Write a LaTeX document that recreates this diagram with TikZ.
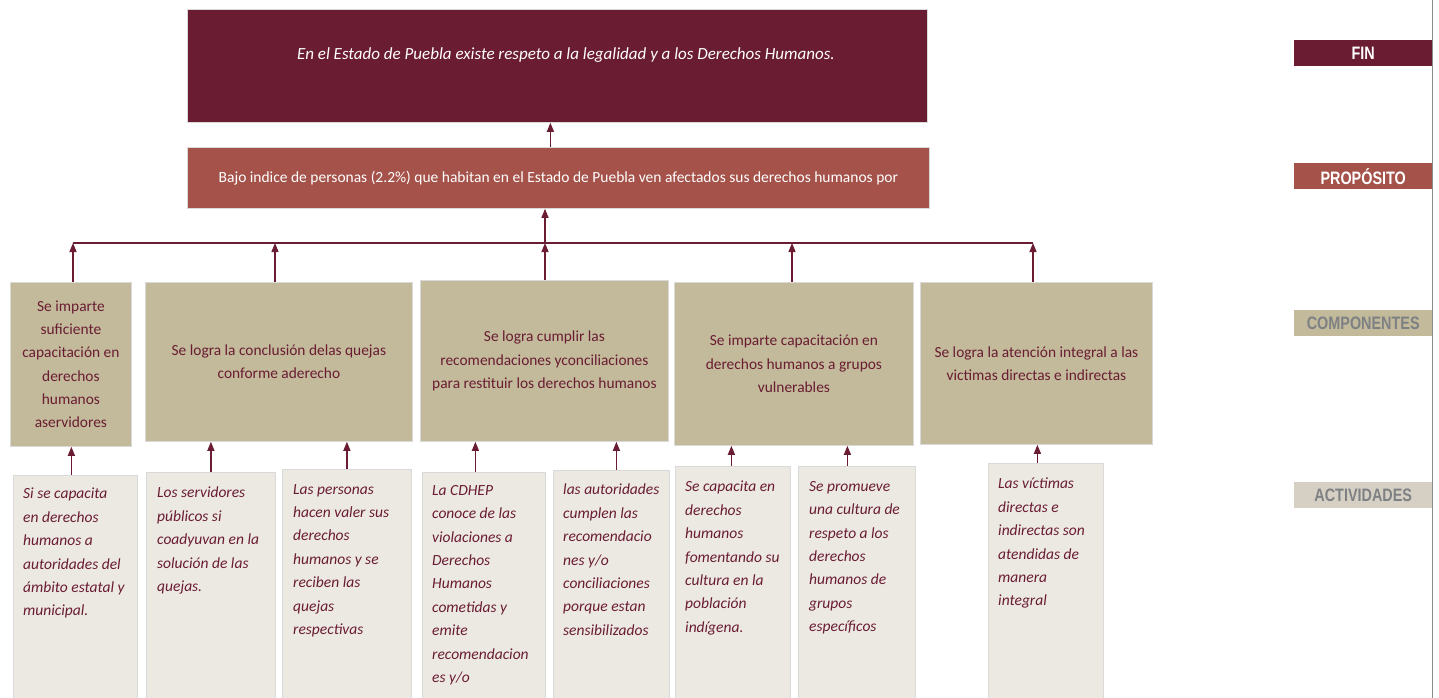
\documentclass[tikz,border=0pt]{standalone}
\usepackage{fontspec}
\setmainfont{Carlito}
\newfontfamily\labfont[FakeStretch=0.8]{Liberation Sans}
\usetikzlibrary{arrows.meta}
\definecolor{maroon}{RGB}{106,28,50}
\definecolor{propcol}{RGB}{165,83,74}
\definecolor{tancol}{RGB}{194,186,154}
\definecolor{actbg}{RGB}{236,233,227}
\definecolor{actlab}{RGB}{214,208,196}
\definecolor{labgray}{RGB}{126,129,132}
\begin{document}
\begin{tikzpicture}[x=1pt,y=-1pt,
  box/.style={draw=black!15, line width=0.8pt, inner sep=0pt, anchor=north west},
  compbox/.style={box, fill=tancol, text=maroon, font=\fontsize{15.4}{23.3}\selectfont, align=center},
  actbox/.style={box, fill=actbg},
  acttext/.style={anchor=north west, inner sep=0pt, text=maroon, font=\fontsize{15.5}{23.4}\selectfont\itshape, align=left},
  arr/.style={draw=maroon, line width=1.3pt, -{Triangle[width=7pt,length=9pt]}},
  bus/.style={draw=maroon, line width=1.3pt},
  lab/.style={minimum width=138pt, minimum height=26pt, inner sep=0pt, anchor=north west, font=\labfont\bfseries\fontsize{18}{20}\selectfont}
]
\useasboundingbox (0,0) rectangle (1439,698);
\fill[white] (0,0) rectangle (1439,698);

% FIN and PROPOSITO
\node[box, fill=maroon, minimum width=740pt, minimum height=113pt] (fin) at (187,9) {};
\node[text=white, inner sep=0pt, font=\fontsize{17}{20}\selectfont\itshape] (fintext) at (566,55) {En el Estado de Puebla existe respeto a la legalidad y a los Derechos Humanos.};
\node[box, fill=propcol, minimum width=742pt, minimum height=61pt, text=white, font=\fontsize{15.5}{18}\selectfont] (prop) at (187,147) {Bajo indice de personas (2.2\%) que habitan en el Estado de Puebla ven afectados sus derechos humanos por};

% Components
\node[compbox, minimum width=121pt, minimum height=164pt] (c1) at (10,282) {Se imparte\\suficiente\\capacitación en\\derechos\\humanos\\aservidores};
\node[compbox, minimum width=267pt, minimum height=159pt] (c2) at (145,282) {Se logra la conclusión delas quejas\\conforme aderecho};
\node[compbox, minimum width=248pt, minimum height=161pt] (c3) at (420,280) {Se logra cumplir las\\recomendaciones yconciliaciones\\para restituir los derechos humanos};
\node[compbox, minimum width=239pt, minimum height=163pt] (c4) at (674,282) {Se imparte capacitación en\\derechos humanos a grupos\\vulnerables};
\node[compbox, minimum width=232pt, minimum height=162pt] (c5) at (920,282) {Se logra la atención integral a las\\victimas directas e indirectas};

% Activities
\node[actbox, minimum width=124pt, minimum height=224pt] (a1) at (13,475) {};
\node[actbox, minimum width=129pt, minimum height=227pt] (a2) at (146,472) {};
\node[actbox, minimum width=129pt, minimum height=230pt] (a3) at (282,469) {};
\node[actbox, minimum width=123pt, minimum height=227pt] (a4) at (422,472) {};
\node[actbox, minimum width=116pt, minimum height=229pt] (a5) at (553,470) {};
\node[actbox, minimum width=115pt, minimum height=233pt] (a6) at (675,466) {};
\node[actbox, minimum width=117pt, minimum height=233pt] (a7) at (798,466) {};
\node[actbox, minimum width=115pt, minimum height=235pt] (a8) at (988,463) {};

\node[acttext] (t1) at (23,488) {Si se capacita\\en derechos\\humanos a\\autoridades del\\ámbito estatal y\\municipal.};
\node[acttext] (t2) at (157,487) {Los servidores\\públicos si\\coadyuvan en la\\solución de las\\quejas.};
\node[acttext] (t3) at (293,484) {Las personas\\hacen valer sus\\derechos\\humanos y se\\reciben las\\quejas\\respectivas};
\node[acttext] (t4) at (432,485) {La CDHEP\\conoce de las\\violaciones a\\Derechos\\Humanos\\cometidas y\\emite\\recomendacion\\es y/o};
\node[acttext] (t5) at (563,484) {las autoridades\\cumplen las\\recomendacio\\nes y/o\\conciliaciones\\porque estan\\sensibilizados};
\node[acttext] (t6) at (685,481) {Se capacita en\\derechos\\humanos\\fomentando su\\cultura en la\\población\\indígena.};
\node[acttext] (t7) at (809,481) {Se promueve\\una cultura de\\respeto a los\\derechos\\humanos de\\grupos\\específicos};
\node[acttext] (t8) at (998,478) {Las víctimas\\directas e\\indirectas son\\atendidas de\\manera\\integral};

% Level labels
\node[lab, fill=maroon, text=white] (lfin) at (1294,40) {FIN};
\node[lab, fill=propcol, text=white] (lprop) at (1294,163) {PROPÓSITO};
\node[lab, fill=tancol, text=labgray] (lcomp) at (1294,310) {COMPONENTES};
\node[lab, fill=actlab, text=labgray] (lact) at (1294,482) {ACTIVIDADES};
\draw[black!45, line width=1.2pt] (1432.5,0) -- (1432.5,698);

% Bus and connectors
\coordinate (b1) at (73,243);
\coordinate (b2) at (275,243);
\coordinate (b3) at (545,243);
\coordinate (b4) at (792,243);
\coordinate (b5) at (1033,243);
\draw[bus] (b1) -- (b5);
\draw[arr] (c1.north -| b1) -- (b1);
\draw[arr] (c2.north -| b2) -- (b2);
\draw[arr] (c3.north -| b3) -- (b3);
\draw[arr] (c4.north -| b4) -- (b4);
\draw[arr] (c5.north -| b5) -- (b5);
\draw[arr] (b3) -- (prop.south -| b3);
\draw[arr] ([xshift=-8pt]prop.north) -- ([xshift=-8pt]prop.north |- fin.south);

\draw[arr] ([xshift=-4pt]a1.north) -- ([xshift=-4pt]a1.north |- c1.south);
\draw[arr] (a2.north) -- (a2.north |- c2.south);
\draw[arr] (a3.north) -- (a3.north |- c2.south);
\draw[arr] ([xshift=-8.5pt]a4.north) -- ([xshift=-8.5pt]a4.north |- c3.south);
\draw[arr] ([xshift=5pt]a5.north) -- ([xshift=5pt]a5.north |- c3.south);
\draw[arr] ([xshift=-1.5pt]a6.north) -- ([xshift=-1.5pt]a6.north |- c4.south);
\draw[arr] ([xshift=-9.5pt]a7.north) -- ([xshift=-9.5pt]a7.north |- c4.south);
\draw[arr] ([xshift=-8.5pt]a8.north) -- ([xshift=-8.5pt]a8.north |- c5.south);
\end{tikzpicture}
\end{document}
